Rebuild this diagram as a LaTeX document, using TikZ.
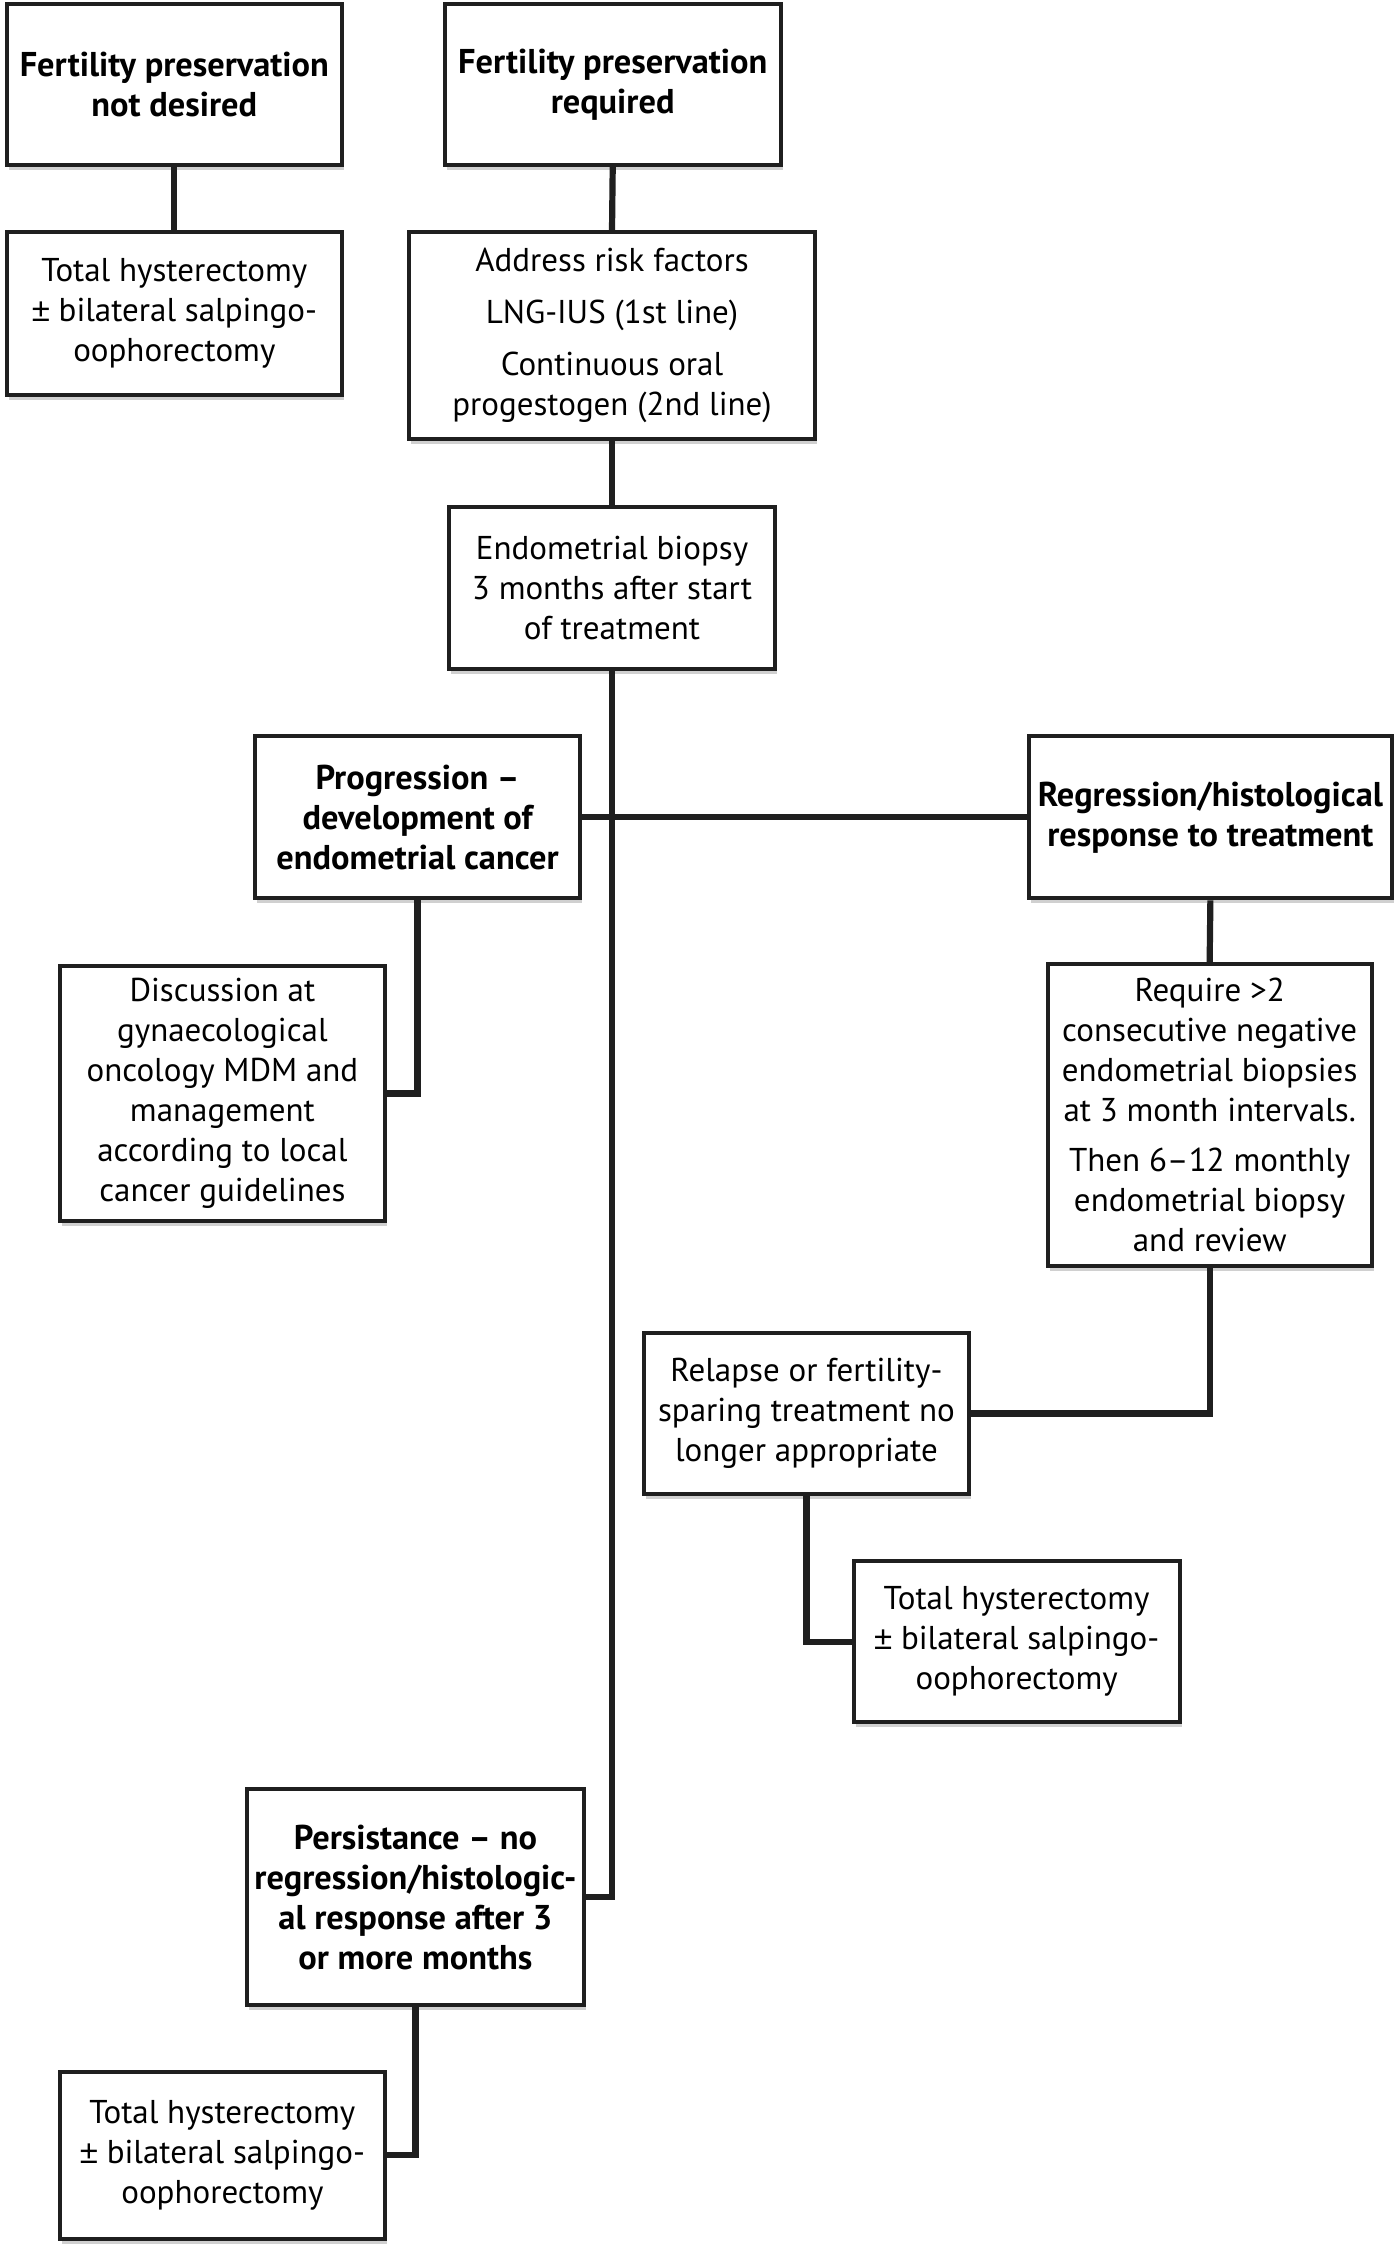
\documentclass[tikz,border=0pt]{standalone}
\usepackage{fontspec}
\setmainfont{PT Sans}
\newfontfamily\pmfont{Liberation Sans}
\newcommand\plusmin{{\pmfont ±}}
\usetikzlibrary{shadows}
\def\U{0.7175pt}
\tikzset{
  box/.style={draw=black!88, line width=2pt, fill=white, align=center, inner sep=0pt,
    font=\fontsize{16.5}{20}\selectfont,
    drop shadow={shadow xshift=1pt, shadow yshift=-2.5pt, opacity=0.3, fill=black!60}},
  bbox/.style={box, font=\fontsize{17.2}{20}\selectfont\bfseries},
  conn/.style={line width=3.1pt, draw=black!88}
}
\newcommand\mybox[7]{\node[#1, minimum width={(#5-#3)*\U}, minimum height={(#6-#4)*\U}] (#2) at ({(#3+#5)/2},{(#4+#6)/2}) {#7};}
\begin{document}
\begin{tikzpicture}[x=\U, y=-\U]
\fill[white] (0,0) rectangle (975,1568.7);
\useasboundingbox (0,0) rectangle (975,1568.7);
\mybox{bbox}{A}{5}{3}{238}{115}{Fertility preservation\\not desired}
\mybox{bbox}{B}{310}{3}{544}{115}{Fertility preservation\\required}
\mybox{box}{C}{5}{162}{238}{275}{Total hysterectomy\\\plusmin{} bilateral salpingo-\\oophorectomy}
\mybox{box}{D}{285}{162}{568}{306}{Address risk factors\\[6pt]LNG-IUS (1st line)\\[6pt]Continuous oral\\progestogen (2nd line)}
\mybox{box}{E}{313}{353}{540}{466}{Endometrial biopsy\\3 months after start\\of treatment}
\mybox{bbox}{F}{178}{513}{404}{626}{Progression –\\development of\\endometrial cancer}
\mybox{bbox}{G}{717}{513}{970}{626}{Regression/histological\\response to treatment}
\mybox{box}{H}{42}{673}{268}{851}{Discussion at\\gynaecological\\oncology MDM and\\management\\according to local\\cancer guidelines}
\mybox{box}{I}{730}{672}{956}{882}{Require >2\\consecutive negative\\endometrial biopsies\\at 3 month intervals.\\[5pt]Then 6–12 monthly\\endometrial biopsy\\and review}
\mybox{box}{J}{449}{929}{675}{1041}{Relapse or fertility-\\sparing treatment no\\longer appropriate}
\mybox{box}{K}{595}{1088}{822}{1200}{Total hysterectomy\\\plusmin{} bilateral salpingo-\\oophorectomy}
\mybox{bbox}{L}{172}{1247}{407}{1397}{Persistance – no\\regression/histologic-\\al response after 3\\or more months}
\mybox{box}{M}{42}{1444}{268}{1560}{Total hysterectomy\\\plusmin{} bilateral salpingo-\\oophorectomy}
\draw[conn] (A.south) -- (C.north);
\draw[conn] (B.south) -- (D.north);
\draw[conn] (D.south) -- (E.north);
\draw[conn] (E.south) |- (L.east);
\draw[conn] (F.east) -- (G.west);
\draw[conn] (F.south) |- (H.east);
\draw[conn] (G.south) -- (I.north);
\draw[conn] (I.south) |- (J.east);
\draw[conn] (J.south) |- (K.west);
\draw[conn] (L.south) |- (M.east);
\end{tikzpicture}
\end{document}
